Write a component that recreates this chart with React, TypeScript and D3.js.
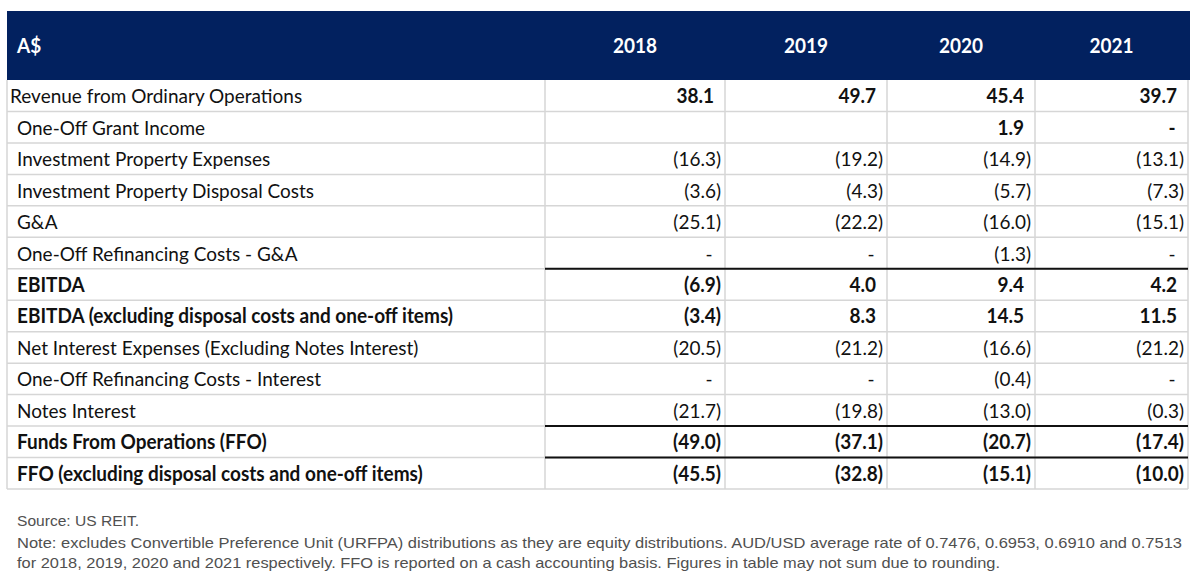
import React from "react";
import * as d3 from "d3";

const years = ["2018", "2019", "2020", "2021"];
const rowLabels = [
  "Revenue from Ordinary Operations",
  "One-Off Grant Income",
  "Investment Property Expenses",
  "Investment Property Disposal Costs",
  "G&A",
  "One-Off Refinancing Costs - G&A",
  "EBITDA",
  "EBITDA (excluding disposal costs and one-off items)",
  "Net Interest Expenses (Excluding Notes Interest)",
  "One-Off Refinancing Costs - Interest",
  "Notes Interest",
  "Funds From Operations (FFO)",
  "FFO (excluding disposal costs and one-off items)",
];
// null = blank cell, 0 = "-"
const values2018 = [38.1, null, -16.3, -3.6, -25.1, 0, -6.9, -3.4, -20.5, 0, -21.7, -49.0, -45.5];
const values2019 = [49.7, null, -19.2, -4.3, -22.2, 0, 4.0, 8.3, -21.2, 0, -19.8, -37.1, -32.8];
const values2020 = [45.4, 1.9, -14.9, -5.7, -16.0, -1.3, 9.4, 14.5, -16.6, -0.4, -13.0, -20.7, -15.1];
const values2021 = [39.7, 0, -13.1, -7.3, -15.1, 0, 4.2, 11.5, -21.2, 0, -0.3, -17.4, -10.0];
const boldLabelRows = [6, 7, 11, 12];
const boldValueRows = [0, 1, 6, 7, 11, 12];
const ruleAboveRows = [6, 11, 12];
const footSource = "Source: US REIT.";
const footNote1 =
  "Note: excludes Convertible Preference Unit (URFPA) distributions as they are equity distributions. AUD/USD average rate of 0.7476, 0.6953, 0.6910 and 0.7513";
const footNote2 =
  "for 2018, 2019, 2020 and 2021 respectively. FFO is reported on a cash accounting basis. Figures in table may not sum due to rounding.";

const seriesByYear = [values2018, values2019, values2020, values2021];

export default function App() {
  const W = 1200;
  const H = 576;
  const left = 7;
  const right = 1188;
  const headTop = 11;
  const headBottom = 80;
  const tableBottom = 489;
  const colEdges = [545, 725, 887, 1035, 1188];

  const y = d3
    .scaleBand<number>()
    .domain(d3.range(rowLabels.length))
    .range([headBottom, tableBottom])
    .paddingInner(0)
    .paddingOuter(0);
  const colLeft = d3.scaleOrdinal<string, number>().domain(years).range(colEdges.slice(0, 4));
  const colRight = d3.scaleOrdinal<string, number>().domain(years).range(colEdges.slice(1));

  const fmt = d3.format(".1f");
  const fmtVal = (v: number) => (v < 0 ? `(${fmt(-v)})` : fmt(v));

  const tableFont = "Lato, 'Open Sans', sans-serif";
  const grid = "#d6d6d6";
  const rh = y.bandwidth();
  const fs = 20;
  const sx = 0.95;

  const T = (props: any) => {
    const { x, y: yy, children, ...rest } = props;
    return (
      <text transform={`translate(${x},${yy}) scale(${sx},1)`} fontSize={fs} {...rest}>
        {children}
      </text>
    );
  };

  return (
    <svg
      width={W}
      height={H}
      style={{ position: "absolute", left: 0, top: 0, background: "#fff" }}
      fontFamily={tableFont}
    >
      {/* header band */}
      <rect x={left} y={headTop} width={right - left + 2} height={headBottom - headTop} fill="#02215f" />
      <T x={17} y={53} fill="#fff" fontWeight={700}>
        A$
      </T>
      {years.map((yr) => (
        <T key={yr} x={(colLeft(yr) + colRight(yr)) / 2} y={53} fill="#fff" fontWeight={700} textAnchor="middle">
          {yr}
        </T>
      ))}

      {/* horizontal grid */}
      {d3.range(1, rowLabels.length + 1).map((i) => {
        const yy = i < rowLabels.length ? y(i)! : tableBottom;
        return <line key={"h" + i} x1={left} x2={right} y1={yy} y2={yy} stroke={grid} strokeWidth={1.5} />;
      })}
      {/* vertical grid */}
      {[left, ...colEdges].map((x, i) => (
        <line key={"v" + i} x1={x} x2={x} y1={headBottom} y2={tableBottom} stroke={grid} strokeWidth={1.5} />
      ))}
      {/* black rules */}
      {ruleAboveRows.map((r) => (
        <line key={"r" + r} x1={colEdges[0]} x2={right} y1={y(r)!} y2={y(r)!} stroke="#111" strokeWidth={2} />
      ))}

      {/* labels */}
      {rowLabels.map((lab, i) => (
        <T
          key={"l" + i}
          x={i === 0 ? 10 : 17}
          y={y(i)! + rh / 2 + 7.5}
          fill="#111"
          fontWeight={boldLabelRows.includes(i) ? 700 : 400}
        >
          {lab}
        </T>
      ))}

      {/* values */}
      {years.map((yr, c) =>
        seriesByYear[c].map((v, i) => {
          if (v === null) return null;
          const r = colRight(yr);
          const bold = boldValueRows.includes(i);
          const cy = y(i)! + rh / 2 + 7.5;
          if (v === 0) {
            return (
              <T key={yr + i} x={r - 16} y={cy} textAnchor="middle" fill="#111" fontWeight={bold ? 700 : 400}>
                -
              </T>
            );
          }
          return (
            <T
              key={yr + i}
              x={v < 0 ? r - 4 : r - 11}
              y={cy}
              textAnchor="end"
              fill="#111"
              fontWeight={bold ? 700 : 400}
            >
              {fmtVal(v)}
            </T>
          );
        })
      )}

      {/* footnotes */}
      <g fontFamily="'Liberation Sans', Arial, sans-serif" fontSize={15} fill="#505050">
        <text x={17} y={526} textLength={122} lengthAdjust="spacingAndGlyphs">
          {footSource}
        </text>
        <text x={17} y={548} textLength={1165} lengthAdjust="spacingAndGlyphs">
          {footNote1}
        </text>
        <text x={17} y={568} textLength={983} lengthAdjust="spacingAndGlyphs">
          {footNote2}
        </text>
      </g>
    </svg>
  );
}
